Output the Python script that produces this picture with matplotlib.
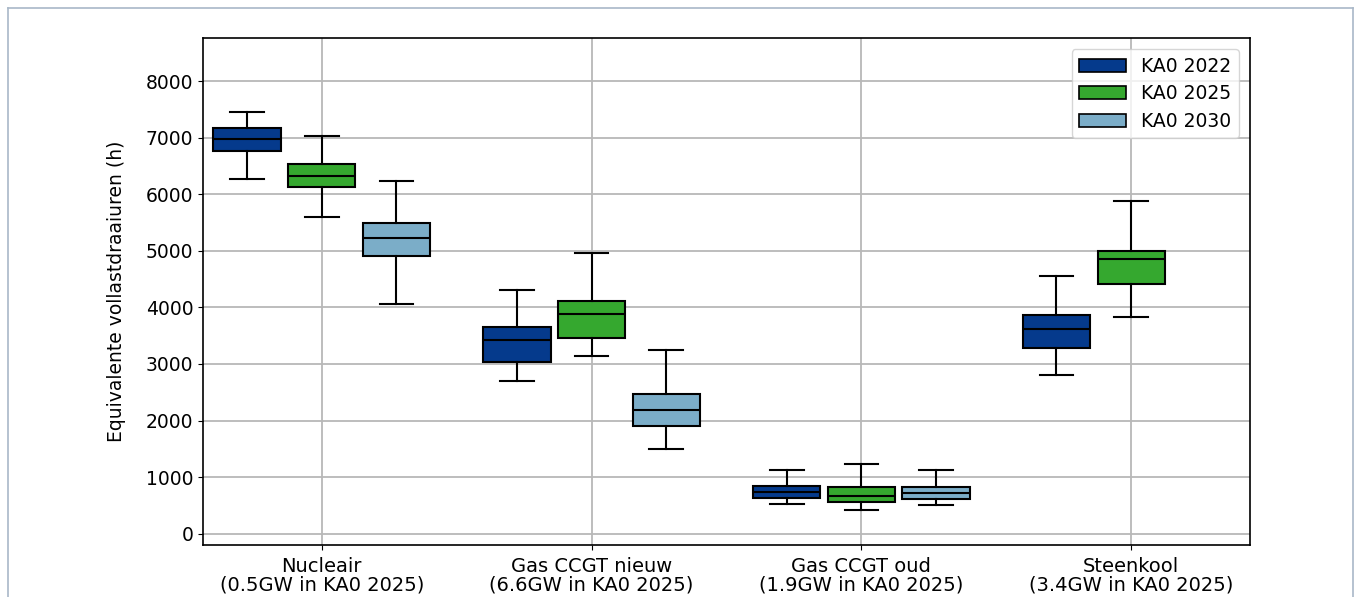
import matplotlib
matplotlib.use("Agg")
import matplotlib.pyplot as plt
from matplotlib.patches import Patch
from matplotlib.lines import Line2D

categories = ["Nucleair\n(0.5GW in KA0 2025)", "Gas CCGT nieuw\n(6.6GW in KA0 2025)",
              "Gas CCGT oud\n(1.9GW in KA0 2025)", "Steenkool\n(3.4GW in KA0 2025)"]
scenarios = ["KA0 2022", "KA0 2025", "KA0 2030"]
colors = ["#053a8c", "#35a82f", "#7badc8"]

# per scenario: (whislo, q1, med, q3, whishi) per category, None = not modelled
ka0_2022 = [(6270, 6770, 6975, 7165, 7450), (2690, 3030, 3415, 3655, 4310),
            (530, 625, 735, 835, 1130), (2800, 3285, 3610, 3865, 4555)]
ka0_2025 = [(5595, 6135, 6330, 6525, 7035), (3140, 3455, 3875, 4110, 4965),
            (420, 560, 665, 830, 1240), (3835, 4405, 4850, 5000, 5885)]
ka0_2030 = [(4055, 4905, 5230, 5485, 6240), (1505, 1900, 2180, 2470, 3245),
            (500, 605, 715, 825, 1125), None]
series = [ka0_2022, ka0_2025, ka0_2030]

fig = plt.figure(figsize=(13.56, 5.97), dpi=100)
ax = fig.add_axes([0.1497, 0.0871, 0.7721, 0.8492])

offsets = [-0.277, 0.0, 0.277]
for vals, off, col in zip(series, offsets, colors):
    stats, pos = [], []
    for i, v in enumerate(vals):
        if v is None:
            continue
        lo, q1, med, q3, hi = v
        stats.append(dict(whislo=lo, q1=q1, med=med, q3=q3, whishi=hi, fliers=[]))
        pos.append(i + off)
    ax.bxp(stats, positions=pos, widths=0.25, patch_artist=True, showfliers=False,
           boxprops=dict(facecolor=col, edgecolor="black", linewidth=1.5),
           medianprops=dict(color="black", linewidth=1.5),
           whiskerprops=dict(color="black", linewidth=1.5),
           capprops=dict(color="black", linewidth=1.5))

ax.set_xlim(-0.44, 3.44)
ax.set_ylim(-200, 8760)
ax.set_xticks(range(len(categories)))
ax.set_xticklabels(categories, fontsize=14, linespacing=1.0)
ax.set_yticks(range(0, 8001, 1000))
ax.tick_params(axis="y", labelsize=13.5)
ax.tick_params(axis="x", pad=5)
ax.grid(True, color="#b8b8b8", linewidth=1.3)
ax.set_axisbelow(True)
for s in ax.spines.values():
    s.set_linewidth(1.2)
ax.set_ylabel("Equivalente vollastdraaiuren (h)", fontsize=13.5, labelpad=14)

handles = [Patch(facecolor=c, edgecolor="black", linewidth=1.2) for c in colors]
ax.legend(handles, scenarios, loc="upper right", fontsize=13.5, handlelength=2.5,
          borderaxespad=0.6, labelspacing=0.45)

# thin frame around the figure
W, H = 1356, 597
frame = dict(color="#a9b8c8", linewidth=1.2, transform=fig.transFigure)
fig.add_artist(Line2D([8 / W, 8 / W], [0, 1 - 8 / H], **frame))
fig.add_artist(Line2D([8 / W, 1353 / W], [1 - 8 / H, 1 - 8 / H], **frame))
fig.add_artist(Line2D([1353 / W, 1353 / W], [0, 1 - 8 / H], **frame))

fig.savefig("out.png", dpi=100)
